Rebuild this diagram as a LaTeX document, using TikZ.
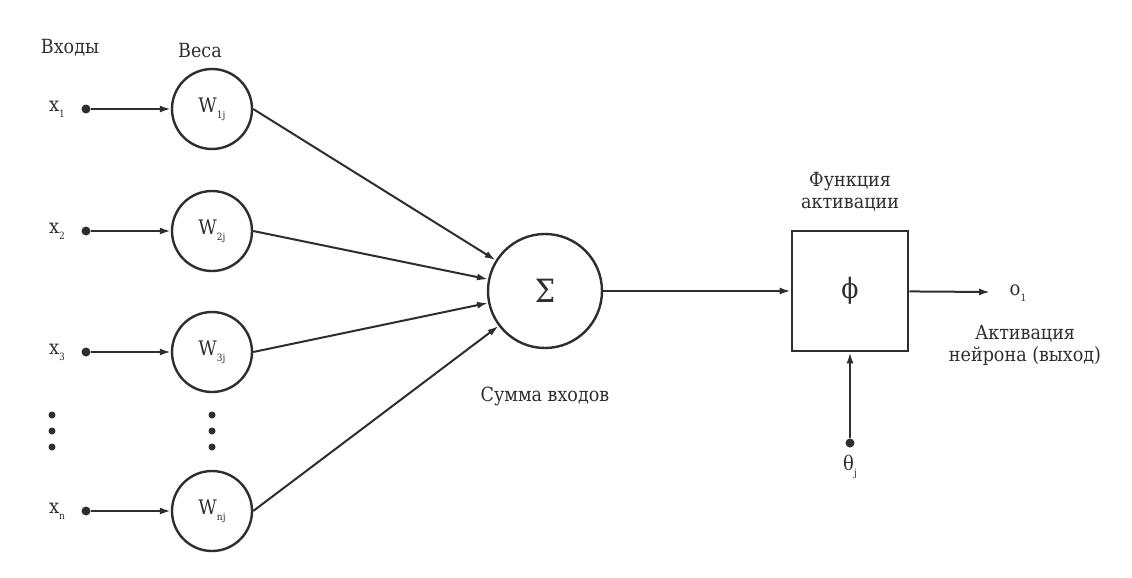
\documentclass[tikz,border=0pt]{standalone}
\usepackage{fontspec}
\setmainfont{DejaVu Serif Condensed}
\usetikzlibrary{arrows.meta}
\definecolor{ink}{HTML}{2E2E2E}
\newcommand{\lowidx}[1]{\raisebox{-0.6ex}{\fontsize{10}{10}\selectfont #1}}
\begin{document}
\begin{tikzpicture}[x=1pt,y=-1pt,
  every node/.style={text=ink},
  lbl/.style={font=\fontsize{19.5}{22}\selectfont, align=center, inner sep=0pt},
  var/.style={font=\fontsize{20}{22}\selectfont, inner sep=0pt},
  weight/.style={circle, draw=ink, line width=2.4pt, minimum size=80pt, inner sep=0pt, font=\fontsize{20}{22}\selectfont},
  summer/.style={circle, draw=ink, line width=2.4pt, minimum size=114pt, inner sep=0pt, font=\fontsize{32}{34}\selectfont},
  actbox/.style={rectangle, draw=ink, line width=2.6pt, minimum width=116pt, minimum height=120pt, inner sep=0pt, font=\fontsize{28}{30}\selectfont},
  pin/.style={circle, fill=ink, inner sep=0pt, minimum size=9pt},
  vdot/.style={circle, fill=ink, inner sep=0pt, minimum size=7pt},
  wire/.style={draw=ink, line width=2pt, -{Latex[length=11pt,width=7pt]}},
]
\useasboundingbox (0,0) rectangle (1132,578);
\fill[white] (0,0) rectangle (1132,578);

% column headings
\node[lbl] (hin) at (70,48) {Входы};
\node[lbl] (hw) at (200,51) {Веса};

% inputs and weights
\foreach \i/\y/\s in {1/109/1, 2/231/2, 3/352/3, n/511/n} {
  \node[var] (x\i) at (57,\y) {x\lowidx{\s}};
  \node[pin] (p\i) at (86,\y) {};
  \node[weight] (w\i) at (212,\y) {W\lowidx{\s j}};
  \draw[wire] (p\i) -- (w\i);
}

% elided rows
\foreach \y [count=\k] in {415,431,447} {
  \node[vdot] (dl\k) at (52,\y) {};
  \node[vdot] (dw\k) at (212,\y) {};
}

% summation
\node[summer] (sum) at (545,291) {Σ};
\node[lbl] (sumlbl) at (545,396) {Сумма входов};
\foreach \i in {1,2,3,n}
  \draw[wire] (w\i.east) -- (sum);

% activation function
\node[actbox] (act) at (850,291) {ϕ};
\node[lbl] (actlbl) at (850,192) {Функция\\активации};
\draw[wire] (sum) -- (act);

% output
\coordinate (out) at (990,292);
\draw[wire] (act) -- (out);
\node[var] (o) at (1018,293) {o\lowidx{1}};
\node[lbl] (outlbl) at (1025,345) {Активация\\нейрона (выход)};

% threshold
\node[pin] (th) at (850,443) {};
\node[var] (thlbl) at (850,467) {θ\lowidx{j}};
\draw[wire] (th) -- (act);
\end{tikzpicture}
\end{document}
